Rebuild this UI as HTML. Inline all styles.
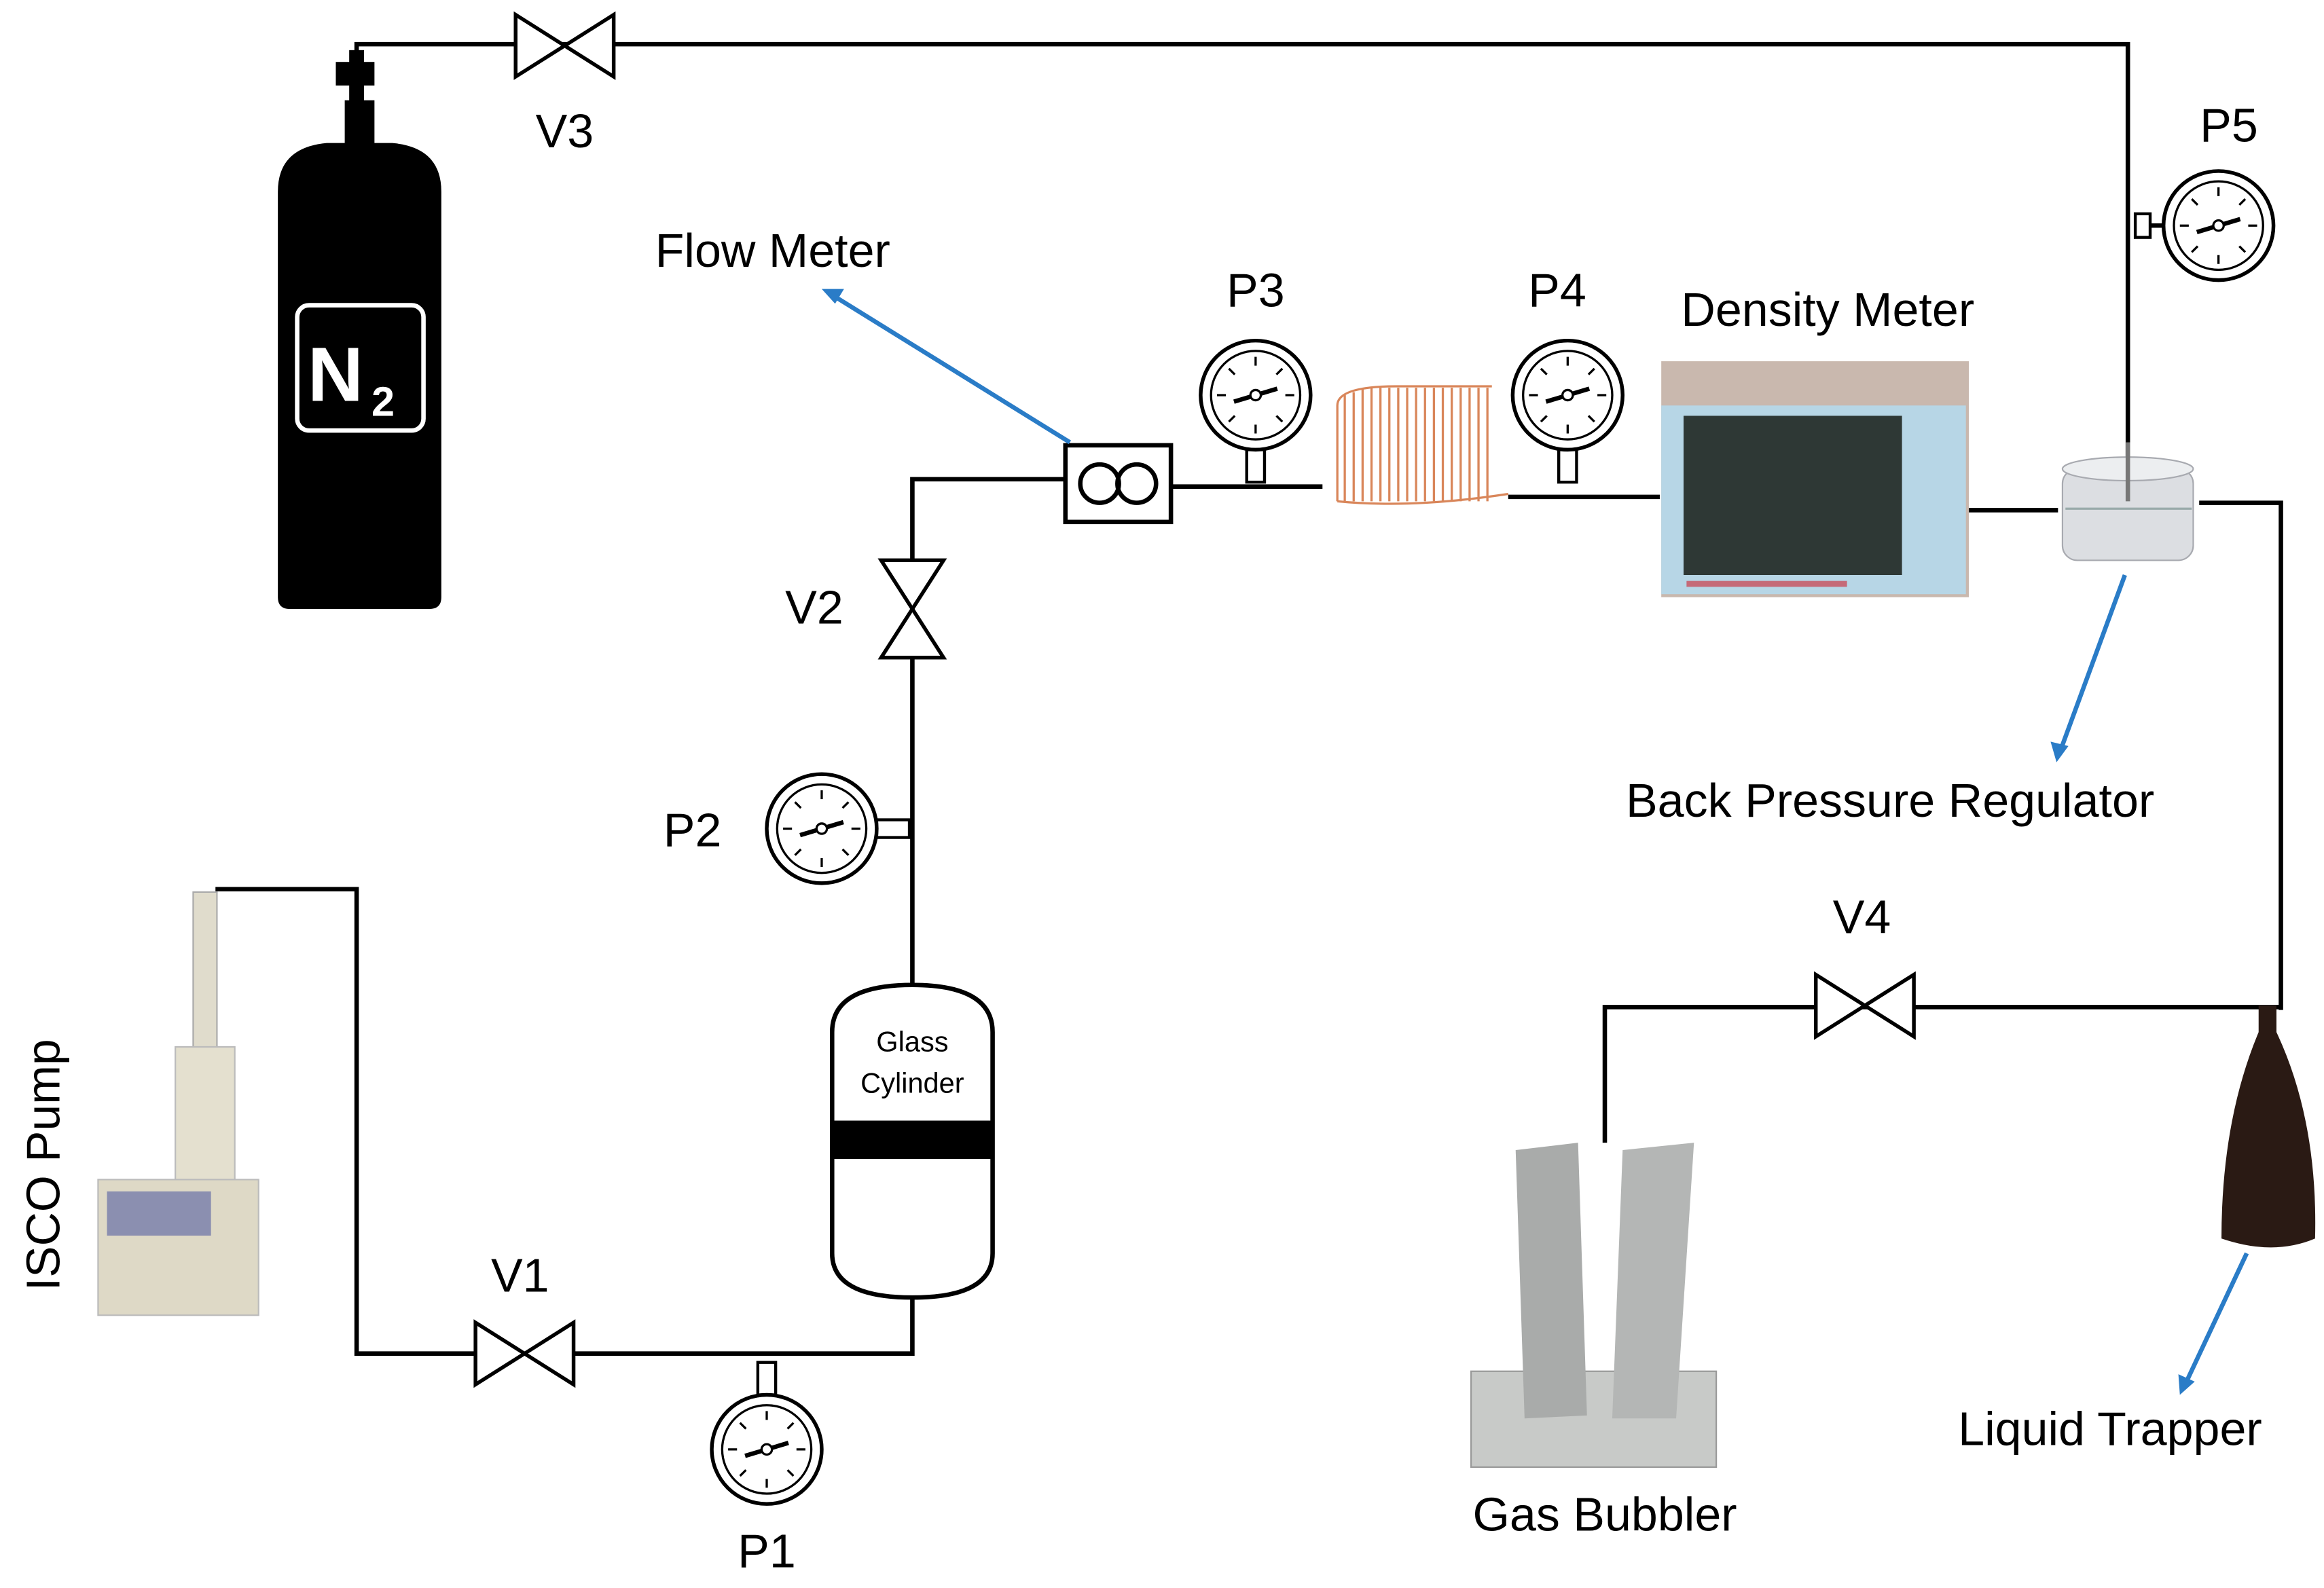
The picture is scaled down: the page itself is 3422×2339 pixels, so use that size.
<!DOCTYPE html>
<html><head><meta charset="utf-8"><style>html,body{margin:0;padding:0;background:#fff}svg{display:block}</style></head>
<body>
<svg width="3422" height="2339" viewBox="0 0 1564 1077" preserveAspectRatio="none" xmlns="http://www.w3.org/2000/svg" font-family="Liberation Sans, sans-serif">
<defs>
<g id="gauge">
<circle r="37" fill="#fff" stroke="#000" stroke-width="2.5"/>
<circle r="30" fill="none" stroke="#000" stroke-width="1.5"/>
<g stroke="#000" stroke-width="1.5">
<line x1="0" y1="-26" x2="0" y2="-20"/><line x1="0" y1="26" x2="0" y2="20"/>
<line x1="-26" y1="0" x2="-20" y2="0"/><line x1="26" y1="0" x2="20" y2="0"/>
<line x1="18" y1="-18" x2="14" y2="-14"/><line x1="-18" y1="-18" x2="-14" y2="-14"/>
<line x1="18" y1="18" x2="14" y2="14"/><line x1="-18" y1="18" x2="-14" y2="14"/>
<line x1="-14" y1="-6" x2="14" y2="6" stroke-width="3" transform="rotate(-40)"/>
</g>
<circle r="3.5" fill="#fff" stroke="#000" stroke-width="1.5"/>
</g>
<g id="valveH">
<polygon points="0,0 33,21 0,42" fill="#fff" stroke="#000" stroke-width="2.5"/>
<polygon points="66,0 33,21 66,42" fill="#fff" stroke="#000" stroke-width="2.5"/>
</g>
</defs>
<g stroke="#000" stroke-width="3" fill="none">
<polyline points="240,48 240,30 1432,30 1432,310"/>
<polyline points="1440,153 1455,153"/>
<polyline points="614,440 614,325 717,325"/>
<line x1="788" y1="330" x2="890" y2="330"/>
<line x1="1015" y1="337" x2="1117" y2="337"/>
<line x1="1325" y1="346" x2="1385" y2="346"/>
<polyline points="1480,341 1535,341 1535,685"/>
<line x1="614" y1="446" x2="614" y2="668"/>
<polyline points="614,880 614,918 240,918 240,603 145,603"/>
<polyline points="1080,775 1080,683 1535,683"/>
</g>
<path d="M187,130 Q187,100 220,97 L264,97 Q297,100 297,130 L297,405 Q297,413 289,413 L195,413 Q187,413 187,405 Z" fill="#000"/>
<rect x="232" y="68" width="20" height="30" fill="#000"/>
<rect x="226" y="42" width="26" height="16" fill="#000"/>
<rect x="235" y="34" width="10" height="35" fill="#000"/>
<rect x="200" y="207" width="85" height="85" rx="8" fill="none" stroke="#fff" stroke-width="3"/>
<text x="207" y="272" font-size="52" font-weight="bold" fill="#fff">N</text>
<text x="250" y="282" font-size="28" font-weight="bold" fill="#fff">2</text>
<use href="#valveH" x="347" y="10"/>
<use href="#valveH" x="320" y="897"/>
<use href="#valveH" x="1222" y="661"/>
<use href="#valveH" transform="translate(593,446) rotate(-90)"/>
<rect x="1437" y="145" width="10" height="16" fill="#fff" stroke="#000" stroke-width="2"/>
<use href="#gauge" x="1493" y="153"/>
<rect x="839" y="305" width="12" height="22" fill="#fff" stroke="#000" stroke-width="2"/>
<use href="#gauge" x="845" y="268"/>
<rect x="1049" y="305" width="12" height="22" fill="#fff" stroke="#000" stroke-width="2"/>
<use href="#gauge" x="1055" y="268"/>
<rect x="590" y="556" width="22" height="12" fill="#fff" stroke="#000" stroke-width="2"/>
<use href="#gauge" x="553" y="562"/>
<rect x="510" y="924" width="12" height="22" fill="#fff" stroke="#000" stroke-width="2"/>
<use href="#gauge" x="516" y="983"/>
<rect x="717" y="302" width="71" height="52" fill="#fff" stroke="#000" stroke-width="3"/>
<circle cx="740" cy="328" r="13" fill="none" stroke="#000" stroke-width="3"/>
<circle cx="765" cy="328" r="13" fill="none" stroke="#000" stroke-width="3"/>
<g stroke="#d9865a" stroke-width="1.5" fill="none">
<path d="M900,275 Q900,262 940,262 L1004,262 M900,275 L900,340"/>
<path d="M905,268 v72 M911,266 v74 M917,264 v76 M923,263 v77 M929,263 v77 M935,263 v77 M941,263 v77 M947,263 v77 M953,263 v77 M959,263 v77 M965,263 v77 M971,263 v77 M977,263 v77 M983,263 v77 M989,263 v77 M995,263 v77 M1001,263 v77"/>
<path d="M900,340 Q950,345 1015,335"/>
</g>
<rect x="1118" y="245" width="207" height="160" fill="#c9b8ae"/>
<rect x="1118" y="275" width="205" height="128" fill="#b7d6e6"/>
<rect x="1133" y="282" width="147" height="108" fill="#2e3835"/>
<rect x="1135" y="394" width="108" height="4" fill="#c56a78"/>
<rect x="1388" y="318" width="88" height="62" rx="10" fill="#dcdee2" stroke="#a8aab0"/>
<ellipse cx="1432" cy="318" rx="44" ry="8" fill="#eceef0" stroke="#a8aab0"/>
<line x1="1390" y1="345" x2="1475" y2="345" stroke="#9aa" stroke-width="1.5"/>
<line x1="1432" y1="300" x2="1432" y2="340" stroke="#777" stroke-width="3"/>
<path d="M560,700 Q560,668 614,668 Q668,668 668,700 L668,850 Q668,880 614,880 Q560,880 560,850 Z" fill="#fff" stroke="#000" stroke-width="3"/>
<rect x="560" y="760" width="108" height="26" fill="#000"/>
<text x="614" y="713" font-size="19" text-anchor="middle">Glass</text>
<text x="614" y="741" font-size="19" text-anchor="middle">Cylinder</text>
<rect x="130" y="605" width="16" height="110" fill="#e0dccc" stroke="#aaa"/>
<rect x="118" y="710" width="40" height="100" fill="#e4e0cf" stroke="#bbb"/>
<rect x="66" y="800" width="108" height="92" fill="#ded9c6" stroke="#bbb"/>
<rect x="72" y="808" width="70" height="30" fill="#8b8fb0"/>
<rect x="990" y="930" width="165" height="65" fill="#c8cac8" stroke="#999"/>
<polygon points="1020,780 1062,775 1068,960 1026,962" fill="#a9abaa"/>
<polygon points="1092,780 1140,775 1128,962 1085,962" fill="#b4b6b5"/>
<path d="M1520,682 L1532,682 L1532,700 Q1560,760 1558,840 Q1530,852 1495,840 Q1495,760 1520,700 Z" fill="#2a1a14"/>
<g stroke="#2a7cc7" stroke-width="3" fill="#2a7cc7">
<line x1="720" y1="300" x2="560" y2="200"/>
<polygon points="553,196 568,196 562,206" stroke="none"/>
<line x1="1430" y1="390" x2="1387" y2="508"/>
<polygon points="1384,517 1380,503 1392,506" stroke="none"/>
<line x1="1512" y1="850" x2="1471" y2="938"/>
<polygon points="1467,946 1466,932 1477,937" stroke="none"/>
</g>
<g font-size="32" fill="#000" text-anchor="middle">
<text x="380" y="100">V3</text>
<text x="1500" y="96">P5</text>
<text x="520" y="181">Flow Meter</text>
<text x="845" y="208">P3</text>
<text x="1048" y="208">P4</text>
<text x="1230" y="221">Density Meter</text>
<text x="548" y="423">V2</text>
<text x="1272" y="554">Back Pressure Regulator</text>
<text x="466" y="574">P2</text>
<text x="1253" y="633">V4</text>
<text x="350" y="876">V1</text>
<text x="1420" y="980">Liquid Trapper</text>
<text x="1080" y="1038">Gas Bubbler</text>
<text x="516" y="1063">P1</text>
<text transform="translate(40,790) rotate(-90)">ISCO Pump</text>
</g>
</svg>
</body></html>
